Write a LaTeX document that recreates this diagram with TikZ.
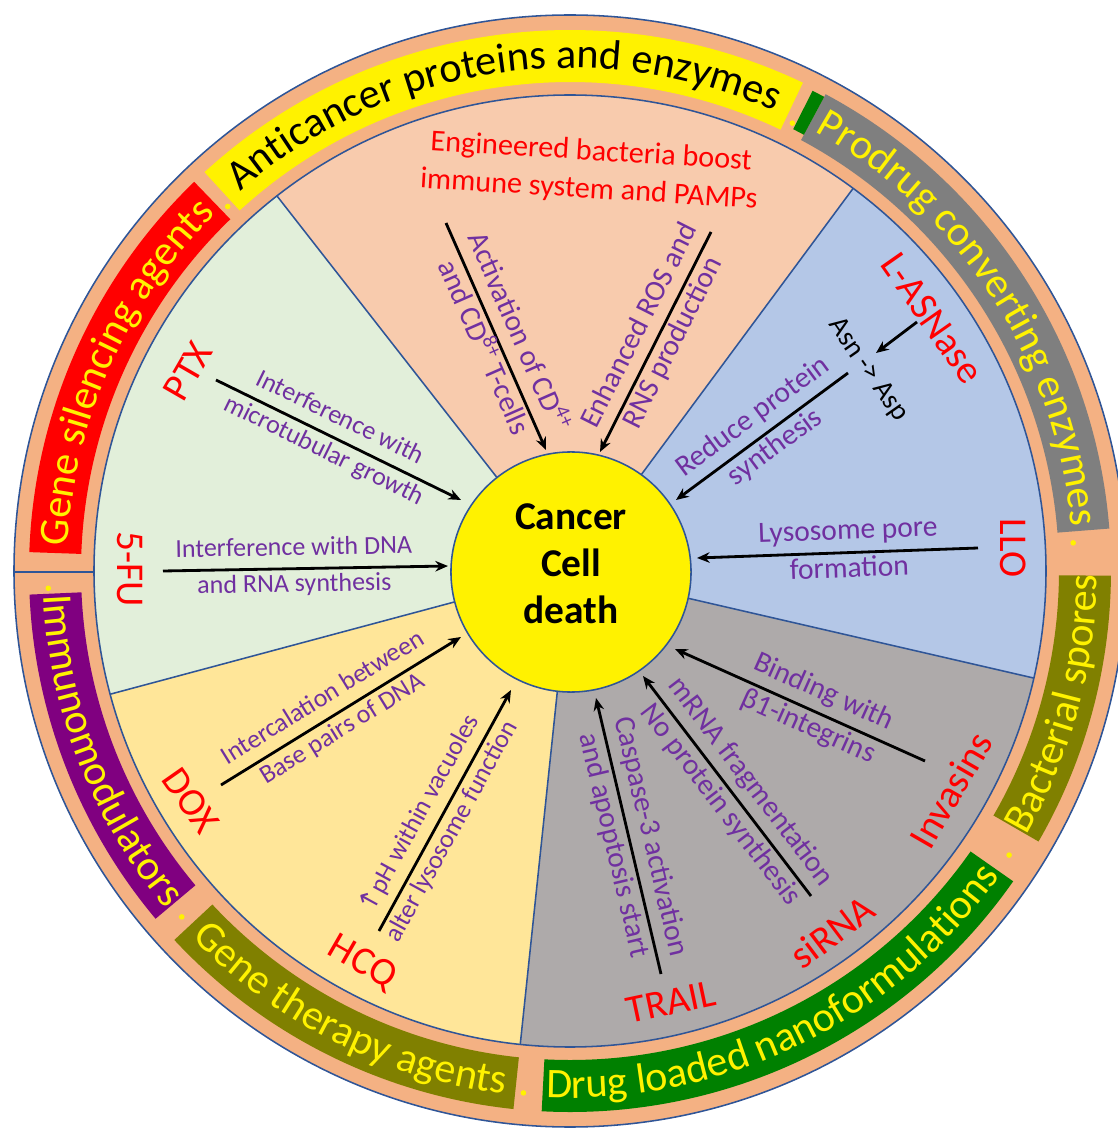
\documentclass[tikz,border=0pt]{standalone}
\usepackage{fontspec}
\setmainfont{Carlito}
\newfontfamily\arrowfont{DejaVu Sans}
\usepackage{tikz}
\usetikzlibrary{arrows.meta, decorations.text}
\definecolor{ringor}{HTML}{F4B183}
\definecolor{rimblue}{HTML}{2F5597}
\definecolor{secpeach}{HTML}{F8CBAD}
\definecolor{secgreen}{HTML}{E2EFDA}
\definecolor{secyellow}{HTML}{FFE699}
\definecolor{secgrey}{HTML}{AEAAAA}
\definecolor{secblue}{HTML}{B4C7E7}
\definecolor{labpurple}{HTML}{7030A0}
\definecolor{bandolive}{HTML}{808000}
\definecolor{bandgrey}{HTML}{7F7F7F}
\definecolor{bandpurple}{HTML}{800080}
\definecolor{bandgreen}{HTML}{008000}

\begin{document}
\begin{tikzpicture}[
      x=0.025cm, y=0.025cm,
      rim/.style={draw=rimblue, line width=1.1pt},
      arr/.style={->, >={Stealth[length=9pt,width=7.5pt]}, line width=2pt},
      lab/.style={sloped, text=labpurple, font=\fontsize{18.5}{21}\selectfont, inner sep=3pt, text height=12.5pt, text depth=5.5pt},
      labbig/.style={lab, font=\fontsize{21}{24}\selectfont, inner sep=2.5pt, text height=14pt, text depth=6pt},
      drug/.style={text=red, font=\fontsize{28}{28}\selectfont, inner sep=0pt},
      ringtxt/.style={decorate, decoration={text along path, text align=center}}
  ]
  \useasboundingbox (-570,-558) rectangle (547,571);

  % outer ring
  \fill[ringor] (0,0) circle[radius=556];
  \draw[rim] (0,0) circle[radius=556];

  % sectors
  \fill[secpeach] (0,0) -- (53.5:476) arc[start angle=53.5, end angle=128, radius=476] -- cycle;
  \fill[secgreen] (0,0) -- (128:476) arc[start angle=128, end angle=195, radius=476] -- cycle;
  \fill[secyellow] (0,0) -- (195:476) arc[start angle=195, end angle=264, radius=476] -- cycle;
  \fill[secgrey] (0,0) -- (264:476) arc[start angle=264, end angle=347, radius=476] -- cycle;
  \fill[secblue] (0,0) -- (-13:476) arc[start angle=-13, end angle=53.5, radius=476] -- cycle;
  \draw[rim] (0,0) circle[radius=476];
  \draw[rim] (0,0) -- (53.5:476);
  \draw[rim] (0,0) -- (128:476);
  \draw[rim] (0,0) -- (195:476);
  \draw[rim] (0,0) -- (264:476);
  \draw[rim] (0,0) -- (-13:476);
  \draw[rim] (-556,-1) -- (-476,-1);

  % ring bands
  \fill[red] (134:489) arc[start angle=134, end angle=178, radius=489] -- (178:541) arc[start angle=178, end angle=134, radius=541] -- cycle;
  \fill[yellow] (64.5:489) arc[start angle=64.5, end angle=132.5, radius=489] -- (132.5:541) arc[start angle=132.5, end angle=64.5, radius=541] -- cycle;
  \fill[bandgrey] (4.5:489) arc[start angle=4.5, end angle=61.8, radius=489] -- (61.8:541) arc[start angle=61.8, end angle=4.5, radius=541] -- cycle;
  \fill[bandgreen] (61.8:495) arc[start angle=61.8, end angle=63.2, radius=495] -- (63.2:538) arc[start angle=63.2, end angle=61.8, radius=538] -- cycle;
  \fill[bandolive] (-30:489) arc[start angle=-30, end angle=-0.5, radius=489] -- (-0.5:541) arc[start angle=-0.5, end angle=-30, radius=541] -- cycle;
  \fill[bandgreen] (-93:489) arc[start angle=-93, end angle=-35, radius=489] -- (-35:541) arc[start angle=-35, end angle=-93, radius=541] -- cycle;
  \fill[bandolive] (223:489) arc[start angle=223, end angle=264, radius=489] -- (264:541) arc[start angle=264, end angle=223, radius=541] -- cycle;
  \fill[bandpurple] (182.5:489) arc[start angle=182.5, end angle=220, radius=489] -- (220:541) arc[start angle=220, end angle=182.5, radius=541] -- cycle;

  \path[ringtxt, decoration={text={|\fontsize{30}{30}\selectfont\color{yellow}|Gene silencing agents}}] (186:503) arc[start angle=186, end angle=126, radius=503];
  \path[ringtxt, decoration={text={|\fontsize{30}{30}\selectfont|Anticancer proteins and enzymes}}] (140.5:503) arc[start angle=140.5, end angle=56.5, radius=503];
  \path[ringtxt, decoration={text={|\fontsize{30}{30}\selectfont\color{yellow}|Prodrug converting enzymes}}] (69:503) arc[start angle=69, end angle=-3, radius=503];
  \path[ringtxt, decoration={text={|\fontsize{30}{30}\selectfont\color{yellow}|Bacterial spores}}] (-38:527) arc[start angle=-38, end angle=7.5, radius=527];
  \path[ringtxt, decoration={text={|\fontsize{30}{30}\selectfont\color{yellow}|Drug loaded nanoformulations}}] (-101:527) arc[start angle=-101, end angle=-27, radius=527];
  \path[ringtxt, decoration={text={|\fontsize{30}{30}\selectfont\color{yellow}|Gene therapy agents}}] (215:527) arc[start angle=215, end angle=272, radius=527];
  \path[ringtxt, decoration={text={|\fontsize{30}{30}\selectfont\color{yellow}|Immunomodulators}}] (174.5:527) arc[start angle=174.5, end angle=228, radius=527];

  % dots between bands
  \fill[yellow] (133.2:500) circle[radius=2.8];
  \fill[yellow] (63.6:500) circle[radius=2.8];
  \fill[yellow] (3.2:504) circle[radius=2.8];
  \fill[yellow] (-32.9:523) circle[radius=2.8];
  \fill[yellow] (264.9:524) circle[radius=2.8];
  \fill[yellow] (221.7:520) circle[radius=2.8];
  \fill[yellow] (181.9:522) circle[radius=2.8];

  % centre
  \node[circle, rim, fill=yellow, minimum size=6cm, inner sep=0pt] (cell) at (1,-1) {};
  \node[font=\fontsize{28}{33.5}\selectfont\bfseries, align=center] (celltxt) at (1,7) {Cancer\\Cell\\death};

  \node[text=red, font=\fontsize{21.5}{27}\selectfont, align=center, rotate=-3.5] (eng) at (20,400) {Engineered bacteria boost\\immune system and PAMPs};

  % agents
  \node[drug, rotate=60] (ptx) at (-382,200) {PTX};
  \node[drug, rotate=-90] (fu) at (-440,2) {5-FU};
  \node[drug, rotate=-55] (dox) at (-379,-230) {DOX};
  \node[drug, rotate=-30] (hcq) at (-208,-392) {HCQ};
  \node[drug, rotate=12] (trail) at (101,-431) {TRAIL};
  \node[drug, rotate=37] (sirna) at (262,-361) {siRNA};
  \node[drug, rotate=60] (inv) at (381,-219) {Invasins};
  \node[drug, rotate=-90] (llo) at (443,23) {LLO};
  \node[drug, rotate=-55] (asnase) at (362,253) {L-ASNase};
  \node[rotate=-55, font=\fontsize{20}{20}\selectfont, inner sep=0pt] (asn) at (298,201) {Asn -> Asp};

  \coordinate (ptxS) at (-354,191);  \coordinate (ptxE) at (-109,71);
  \coordinate (fuS) at (-407,0);     \coordinate (fuE) at (-122,5);
  \coordinate (doxS) at (-349,-214); \coordinate (doxE) at (-109,-66);
  \coordinate (hcqS) at (-191,-360); \coordinate (hcqE) at (-59,-119);
  \coordinate (trS) at (91,-403);    \coordinate (trE) at (26,-127);
  \coordinate (siS) at (241,-325);   \coordinate (siE) at (73,-105);
  \coordinate (invS) at (355,-190);  \coordinate (invE) at (105,-78);
  \coordinate (lloS) at (408,23);    \coordinate (lloE) at (127,13);
  \coordinate (redS) at (278,198);   \coordinate (redE) at (106,71);
  \coordinate (rosS) at (141,339);   \coordinate (rosE) at (30,119);
  \coordinate (cdS) at (-124,348);   \coordinate (cdE) at (-24,121);
  \coordinate (asS) at (347,249);    \coordinate (asE) at (306,218);

  \draw[arr] (ptxS) -- node[lab, above, pos=.47] (ptxA) {Interference with} node[lab, below, pos=.47] (ptxB) {microtubular growth} (ptxE);
  \draw[arr] (fuS) -- node[lab, above, pos=.46] (fuA) {Interference with DNA} node[lab, below, pos=.46] (fuB) {and RNA synthesis} (fuE);
  \draw[arr] (doxS) -- node[lab, above, pos=.47] (doxA) {Intercalation between} node[lab, below, pos=.47] (doxB) {Base pairs of DNA} (doxE);
  \draw[arr] (hcqS) -- node[lab, above, pos=.445] (hcqA) {{\arrowfont ↑}pH within vacuoles} node[lab, below, pos=.445] (hcqB) {alter lysosome function} (hcqE);
  \draw[arr] (trS) -- node[labbig, above, pos=.48] (trA) {Caspase-3 activation} node[labbig, below, pos=.48] (trB) {and apoptosis start} (trE);
  \draw[arr] (siS) -- node[labbig, above, pos=.46] (siA) {mRNA fragmentation} node[labbig, below, pos=.46] (siB) {No protein synthesis} (siE);
  \draw[arr] (invS) -- node[labbig, above, pos=.44] (invA) {Binding with} node[labbig, below, pos=.44] (invB) {β1-integrins} (invE);
  \draw[arr] (lloS) -- node[labbig, above, pos=.46] (lloA) {Lysosome pore} node[labbig, below, pos=.46] (lloB) {formation} (lloE);
  \draw[arr] (redS) -- node[labbig, above, pos=.48] (redA) {Reduce protein} node[labbig, below, pos=.48] (redB) {synthesis} (redE);
  \draw[arr] (rosS) -- node[labbig, above, pos=.47] (rosA) {Enhanced ROS and} node[labbig, below, pos=.47] (rosB) {RNS production} (rosE);
  \draw[arr] (cdS) -- node[labbig, above, pos=.52] (cdA) {Activation of CD\textsuperscript{4+}} node[labbig, below, pos=.52] (cdB) {and CD\textsuperscript{8+} T-cells} (cdE);
  \draw[arr] (asS) -- (asE);
  \end{tikzpicture}
\end{document}
